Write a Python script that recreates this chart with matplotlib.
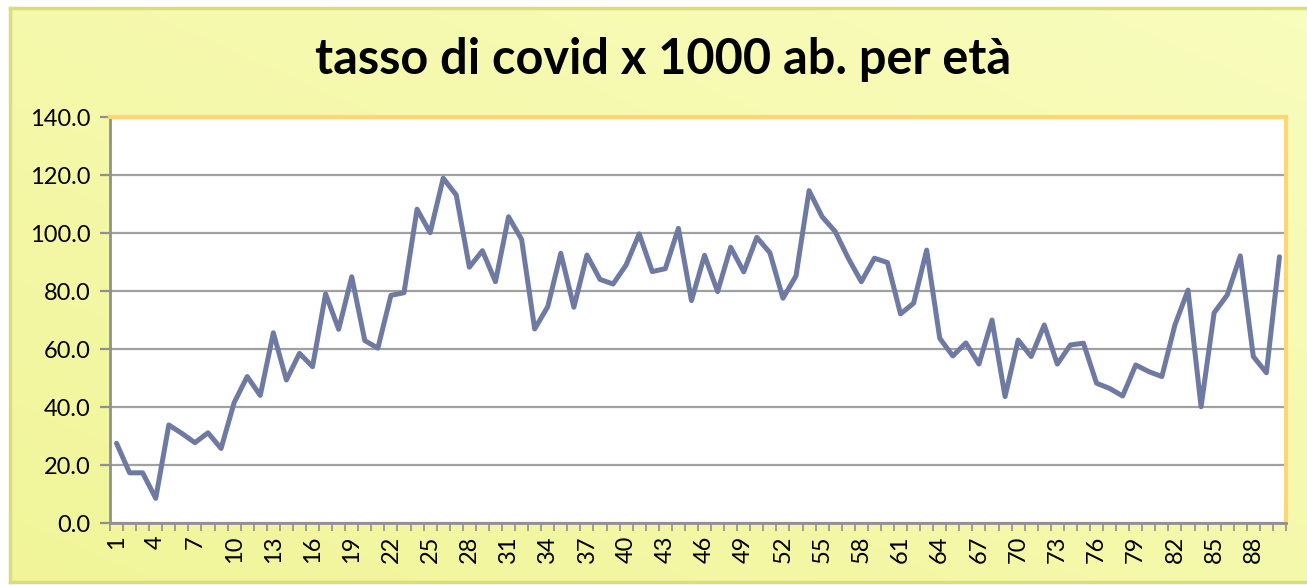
import numpy as np
import matplotlib
matplotlib.use("Agg")
import matplotlib.pyplot as plt

ages = list(range(1, 91))
rates = [27.5, 17.3, 17.3, 8.5, 33.8, 30.9, 27.7, 31.1, 25.7, 41.5,
         50.5, 44.0, 65.6, 49.3, 58.5, 53.9, 79.0, 66.8, 84.9, 62.9,
         60.3, 78.5, 79.4, 108.2, 100.1, 118.9, 113.1, 88.2, 93.9, 83.2,
         105.6, 97.8, 66.9, 74.6, 93.0, 74.4, 92.4, 84.0, 82.4, 89.0,
         99.7, 86.7, 87.7, 101.6, 76.7, 92.3, 79.8, 95.1, 86.6, 98.5,
         93.2, 77.5, 85.2, 114.6, 105.6, 100.5, 91.3, 83.2, 91.3, 89.8,
         72.1, 75.8, 94.1, 63.7, 57.6, 62.1, 54.8, 70.0, 43.6, 63.1,
         57.4, 68.3, 54.8, 61.4, 62.0, 48.2, 46.4, 43.8, 54.5, 52.2,
         50.5, 68.3, 80.3, 40.1, 72.5, 78.6, 92.1, 57.4, 51.8, 91.8]
x_labels = [str(a) for a in range(1, 91, 3)]
y_ticks = [0, 20, 40, 60, 80, 100, 120, 140]
title = "tasso di covid x 1000 ab. per età"

W, H = 1307, 585
fig = plt.figure(figsize=(W / 100, H / 100), dpi=100)
fig.patch.set_facecolor("white")

# background panel with gentle gradient
bg = fig.add_axes([10 / W, 3 / H, 1 - 10 / W, (582 - 3 - 5) / H], zorder=0)
grad = np.linspace(0, 1, 256)
gx, gy = np.meshgrid(grad, grad)
g = (gx + (1 - gy)) / 2
c1 = np.array([0.945, 0.960, 0.600])
c2 = np.array([0.975, 0.990, 0.740])
img = c1[None, None, :] * (1 - g[..., None]) + c2[None, None, :] * g[..., None]
bg.imshow(img, aspect="auto", extent=[0, 1, 0, 1], origin="upper")
bg.set_xlim(0, 1)
bg.set_ylim(0, 1)
bg.set_xticks([])
bg.set_yticks([])
for s in bg.spines.values():
    s.set_color("#d9de7a")
    s.set_linewidth(2.5)
bg.spines["right"].set_visible(False)

left, right, top, bottom = 110, 1286, 117, 523
ax = fig.add_axes([left / W, 1 - bottom / H, (right - left) / W, (bottom - top) / H], zorder=2)
ax.set_facecolor("white")
ax.plot(ages, rates, color="#6f7aa3", linewidth=3.6, solid_joinstyle="round",
        solid_capstyle="round", zorder=3)
ax.set_xlim(0.5, 90.5)
ax.set_ylim(0, 140)

ax.set_yticks(y_ticks)
ax.set_yticklabels([f"{v:.1f}" for v in y_ticks], fontsize=17, family="Lato")
ax.yaxis.grid(True, color="#a0a0a0", linewidth=1.6, zorder=1)
ax.set_axisbelow(True)

ax.set_xticks(list(range(1, 91, 3)))
ax.set_xticklabels(x_labels, rotation=90, fontsize=17, family="Lato")
ax.set_xticks(np.arange(0.5, 91, 1), minor=True)
ax.tick_params(axis="x", which="major", length=0, pad=9)
ax.tick_params(axis="x", which="minor", length=6, width=1.2, color="#909090", direction="out")
ax.tick_params(axis="y", which="major", length=7, width=1.6, color="#909090", pad=7, direction="out")

for side in ["top", "right"]:
    ax.spines[side].set_color("#fdd674")
    ax.spines[side].set_linewidth(3)
ax.spines["left"].set_color("#909090")
ax.spines["left"].set_linewidth(2)
ax.spines["bottom"].set_color("#909090")
ax.spines["bottom"].set_linewidth(2)

fig.text(663 / W, 1 - 60 / H, title, ha="center", va="center", fontsize=35,
         fontweight="bold", family="Lato", zorder=5)

fig.savefig("out.png", dpi=100, facecolor=fig.get_facecolor())
